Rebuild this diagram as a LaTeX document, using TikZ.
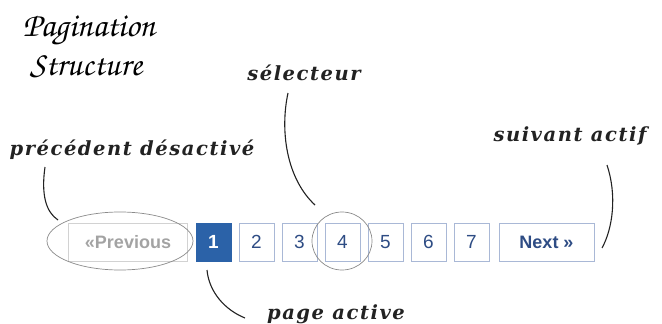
\documentclass[tikz,border=0pt]{standalone}
\usepackage[T1]{fontenc}
\usepackage{fontspec}
\usepackage{tikz}
\usetikzlibrary{shapes.geometric}

\newfontfamily\pagefont{Liberation Sans}
\newfontfamily\notefont{DejaVu Serif}[LetterSpace=8]
\newcommand{\handfont}{\fontencoding{T1}\fontfamily{pzc}\fontseries{mb}\fontshape{it}\selectfont}

\definecolor{boxline}{HTML}{A9B8D6}
\definecolor{numblue}{HTML}{2E4C84}
\definecolor{activeblue}{HTML}{2B62A8}
\definecolor{greyline}{HTML}{D2D2D2}
\definecolor{greytext}{HTML}{A3A3A3}
\definecolor{ringgrey}{HTML}{8A8A8A}
\definecolor{inkblack}{HTML}{222222}

\tikzset{
    pagebox/.style={draw=boxline, minimum width=35, minimum height=38, inner sep=0,
        text=numblue, font=\pagefont\fontsize{19}{19}\selectfont},
    note/.style={inner sep=0, text=inkblack, font=\notefont\bfseries\itshape\fontsize{19.5}{19.5}\selectfont},
    title/.style={inner sep=0, text=black, font=\handfont\fontsize{34}{34}\selectfont},
    ring/.style={ellipse, draw=ringgrey, line width=0.7, inner sep=0},
    pen/.style={draw=inkblack, line width=1.1},
}

\begin{document}
\begin{tikzpicture}[x=1pt,y=-1pt]
        \useasboundingbox (0,0) rectangle (662,324);
        % title
        \node[title] (title1) at (89,31) {Pagination};
        \node[title] (title2) at (86,66) {Structure};
        % page row
        \node[pagebox, draw=greyline, text=greytext, minimum width=119,
            font=\pagefont\bfseries\fontsize{18}{18}\selectfont] (prev) at (128,242) {«Previous};
        \node[pagebox, draw=activeblue, fill=activeblue, text=white,
            font=\pagefont\bfseries\fontsize{19}{19}\selectfont] (p1) at (213.5,242) {1};
        \foreach \n in { 2, 3, 4, 5, 6, 7 } {
            \node[pagebox] (p\n) at (170.5+43*\n,242) {\n};
        }
        \node[pagebox, minimum width=95,
            font=\pagefont\bfseries\fontsize{18}{18}\selectfont] (next) at (546.5,242) {Next »};
        % rings
        \node[ring, minimum width=146, minimum height=58] (ringprev) at (120,241) {};
        \node[ring, minimum width=60, minimum height=58] (ring4) at (342,241) {};
        % notes
        \node[note] (prevnote) at (132,150) {précédent désactivé};
        \node[note] (selnote) at (304,73) {sélecteur};
        \node[note] (nextnote) at (570,136) {suivant actif};
        \node[note] (activenote) at (336,314) {page active};
        % leaders
        \coordinate (prevtop) at (45,167);
        \coordinate (prevend) at (58,220);
        \draw[pen] (prevtop) .. controls (41,195) and (46,212) .. (prevend);
        \coordinate (seltop) at (288,93);
        \coordinate (selend) at (315,205);
        \draw[pen] (seltop) .. controls (280,130) and (286,178) .. (selend);
        \coordinate (nexttop) at (607,165);
        \coordinate (nextend) at (602,248);
        \draw[pen] (nexttop) .. controls (617,195) and (613,228) .. (nextend);
        \coordinate (activetop) at (207,270);
        \coordinate (activeend) at (245,318);
        \draw[pen] (activetop) .. controls (209,292) and (225,310) .. (activeend);
\end{tikzpicture}
\end{document}
